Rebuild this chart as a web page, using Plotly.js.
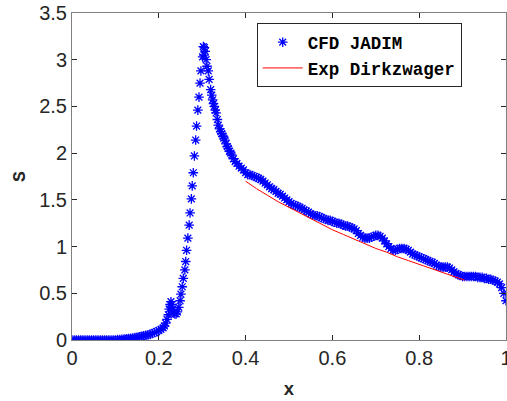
<!DOCTYPE html>
<html>
<head>
<meta charset="utf-8">
<script src="https://cdn.plot.ly/plotly-3.0.1.min.js"></script>
<style>html,body{margin:0;padding:0;background:#fff;}#chart{width:507px;height:401px;}</style>
</head>
<body>
<div id="chart"></div>
<script>
// CFD JADIM: flat/rising part
const cfdX1 = [0,0.005,0.01,0.015,0.02,0.025,0.03,0.035,0.04,0.045,0.05,0.055,0.06,0.065,0.07,0.075,0.08,0.085,0.09,0.095,0.10,0.105,0.11,0.115,0.12,0.125,0.13,0.135,0.14,0.145,0.15,0.155,0.16,0.165,0.17,0.175,0.18,0.185,0.19,0.195,0.2,0.205,0.21,0.213,0.216,0.219,0.222,0.224,0.226,0.228,0.23,0.232,0.234,0.237,0.24,0.243,0.246,0.249,0.251,0.254,0.2565,0.26,0.262,0.264,0.267,0.27,0.272,0.275,0.277,0.2795,0.282,0.285,0.287,0.29,0.2926,0.295,0.297,0.301,0.3026,0.304,0.305,0.307,0.309];
const cfdY1 = [0,0,0,0,0,0,0,0,0,0,0,0,0,0,0,0,0,0,0,0,0,0.005,0.005,0.008,0.01,0.012,0.015,0.018,0.02,0.025,0.03,0.035,0.04,0.045,0.05,0.055,0.06,0.07,0.08,0.09,0.10,0.115,0.13,0.15,0.18,0.22,0.27,0.33,0.38,0.41,0.38,0.33,0.29,0.28,0.28,0.30,0.35,0.42,0.49,0.57,0.66,0.75,0.84,0.96,1.09,1.23,1.36,1.51,1.65,1.79,1.97,2.14,2.29,2.46,2.60,2.75,2.88,3.03,3.14,3.05,3.13,3.09,3.00];
// CFD JADIM: descending part
const cfdX2 = [0.311,0.314,0.316,0.3195,0.322,0.324,0.326,0.328,0.330,0.332,0.335,0.337,0.340,0.343,0.345,0.348,0.350,0.3525,0.355,0.358,0.360,0.363,0.366,0.368,0.372,0.376,0.38,0.385,0.39,0.395,0.40,0.405,0.41,0.415,0.42,0.425,0.43,0.435,0.44,0.445,0.45,0.455,0.46,0.465,0.47,0.475,0.48,0.485,0.49,0.495,0.5,0.505,0.51,0.515,0.52,0.525,0.53,0.535,0.54,0.545,0.55,0.555,0.56,0.565,0.57,0.575,0.58,0.585,0.59,0.595,0.6,0.605,0.61,0.615,0.62,0.625,0.63,0.635,0.64,0.645,0.65,0.655,0.66,0.665,0.67,0.675,0.68,0.685,0.69,0.695,0.70,0.705,0.71,0.715,0.72,0.725,0.73,0.735,0.74,0.745,0.75,0.755,0.76,0.765,0.77,0.775,0.78,0.785,0.79,0.795,0.8,0.805,0.81,0.815,0.82,0.825,0.83,0.835,0.84,0.845,0.85,0.855,0.86,0.865,0.87,0.875,0.88,0.885,0.89,0.895,0.90,0.905,0.91,0.915,0.92,0.925,0.93,0.935,0.94,0.945,0.95,0.955,0.96,0.965,0.97,0.975,0.98,0.985,0.99,0.995,1.0];
const cfdY2 = [2.93,2.88,2.79,2.68,2.62,2.57,2.53,2.50,2.46,2.43,2.36,2.30,2.26,2.23,2.21,2.18,2.16,2.14,2.10,2.07,2.05,2.02,2.00,1.98,1.94,1.91,1.89,1.86,1.84,1.82,1.79,1.77,1.77,1.76,1.75,1.74,1.73,1.72,1.70,1.68,1.66,1.64,1.62,1.61,1.59,1.57,1.56,1.54,1.52,1.50,1.48,1.46,1.45,1.44,1.43,1.42,1.41,1.39,1.38,1.37,1.35,1.34,1.33,1.33,1.32,1.31,1.30,1.29,1.28,1.28,1.27,1.26,1.25,1.25,1.24,1.23,1.22,1.22,1.21,1.20,1.19,1.17,1.14,1.12,1.10,1.09,1.09,1.09,1.10,1.11,1.12,1.12,1.11,1.09,1.06,1.03,1.00,0.98,0.96,0.96,0.97,0.98,0.98,0.98,0.97,0.96,0.94,0.92,0.91,0.90,0.89,0.88,0.87,0.86,0.85,0.84,0.83,0.82,0.80,0.79,0.78,0.78,0.78,0.78,0.77,0.75,0.73,0.71,0.70,0.69,0.68,0.68,0.68,0.68,0.68,0.68,0.68,0.67,0.67,0.67,0.66,0.66,0.65,0.65,0.64,0.63,0.62,0.60,0.56,0.50,0.42];
// Exp Dirkzwager
const expX = [0.40,0.425,0.45,0.475,0.5,0.525,0.55,0.575,0.6,0.625,0.65,0.675,0.70,0.725,0.75,0.775,0.80,0.825,0.85,0.875,0.905];
const expY = [1.70,1.62,1.55,1.48,1.42,1.36,1.30,1.24,1.18,1.13,1.08,1.03,0.98,0.94,0.89,0.85,0.81,0.77,0.73,0.69,0.64];

const xTicks = [0,0.2,0.4,0.6,0.8,1];
const xTickText = ['0','0.2','0.4','0.6','0.8','1'];
const yTicks = [0,0.5,1,1.5,2,2.5,3,3.5];
const yTickText = ['0','0.5','1','1.5','2','2.5','3','3.5'];

const traces = [
  {x: cfdX1.concat(cfdX2), y: cfdY1.concat(cfdY2), mode: 'markers', type: 'scatter', name: 'CFD JADIM',
   marker: {symbol: 'asterisk-open', size: 8, color: '#0000ff', line: {color: '#0000ff', width: 1.3}}},
  {x: expX, y: expY, mode: 'lines', type: 'scatter', name: 'Exp Dirkzwager',
   line: {color: '#ff0000', width: 1}}
];

const axisCommon = {
  showline: true, mirror: 'ticks', linecolor: '#808080', linewidth: 1,
  ticks: 'inside', ticklen: 5, tickcolor: '#262626', tickwidth: 1,
  showgrid: false, zeroline: false, ticklabeloverflow: 'allow',
  tickfont: {family: 'Liberation Sans, Arial, sans-serif', size: 20, color: '#262626'}
};

const layout = {
  width: 507, height: 401,
  margin: {l: 72, r: 1, t: 13, b: 61},
  paper_bgcolor: '#fff', plot_bgcolor: '#fff',
  showlegend: true,
  legend: {x: 0.4256, y: 0.9685, xanchor: 'left', yanchor: 'top',
    bordercolor: '#262626', borderwidth: 1, bgcolor: '#fff',
    font: {family: 'Liberation Mono, Courier New, monospace', size: 17.5, color: '#000', weight: 'bold'},
    tracegroupgap: 0, itemwidth: 40, entrywidth: 195},
  xaxis: Object.assign({}, axisCommon, {range: [0, 1], tickvals: xTicks, ticktext: xTickText,
    title: {text: '<b>x</b>', font: {family: 'Liberation Mono, Courier New, monospace', size: 18, color: '#262626'}, standoff: 14}}),
  yaxis: Object.assign({}, axisCommon, {range: [0, 3.5], tickvals: yTicks, ticktext: yTickText,
    title: {text: '<b>S</b>', font: {family: 'Liberation Mono, Courier New, monospace', size: 18, color: '#262626'}, standoff: 8}})
};

Plotly.newPlot('chart', traces, layout, {displayModeBar: false, staticPlot: true});
</script>
</body>
</html>
